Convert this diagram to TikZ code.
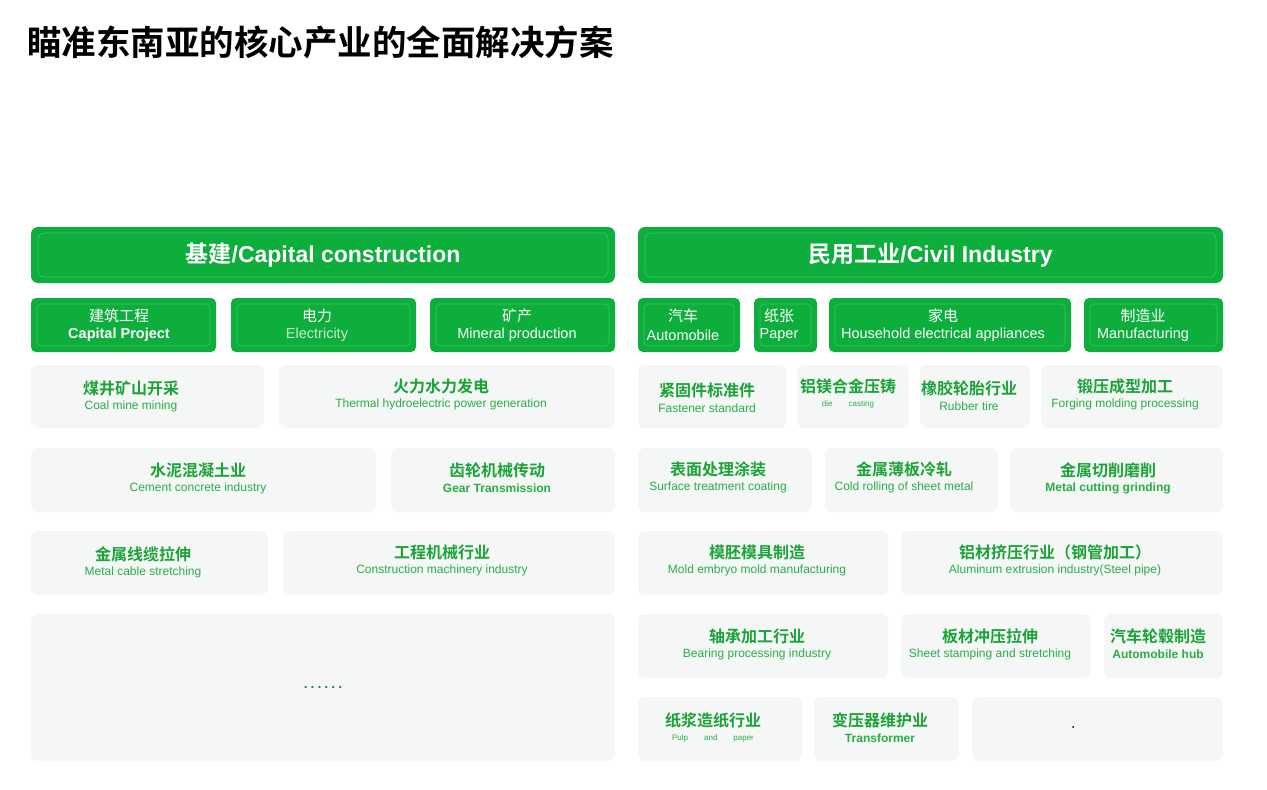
\documentclass[tikz,border=0pt]{standalone}
\usepackage{fontspec}
\setmainfont{Liberation Sans}
\newfontfamily\cjk{Noto Sans CJK SC}[BoldFont={Noto Sans CJK SC Bold}]
\usetikzlibrary{positioning}
\definecolor{hgreen}{HTML}{0EAE3D}
\definecolor{rimgreen}{HTML}{3DC566}
\definecolor{tgreen}{HTML}{1AA336}
\definecolor{egreen}{HTML}{28AE45}
\definecolor{tilegray}{HTML}{F5F7F6}
\definecolor{palegreen}{HTML}{C9ECCF}
\definecolor{dotgreen}{HTML}{2E8A50}
\tikzset{
  bar/.style={fill=hgreen,rounded corners=7pt},
  rim/.style={draw=rimgreen,line width=.6pt,rounded corners=6pt},
  tile/.style={fill=tilegray,rounded corners=7pt},
  headtxt/.style={text=white,font=\bfseries\fontsize{23}{23}\selectfont},
  cattxt/.style={text=white,font=\fontsize{14.5}{14.5}\selectfont},
  cntxt/.style={text=tgreen,font=\cjk\bfseries\fontsize{16}{16}\selectfont},
  entxt/.style={text=egreen,font=\fontsize{12}{12}\selectfont}
}
\begin{document}
\begin{tikzpicture}[x=1pt,y=-1pt]
\useasboundingbox (0,0) rectangle (1267,790);
\node[anchor=west,inner sep=0pt,font=\cjk\bfseries\fontsize{34.5}{34.5}\selectfont] (title) at (27,42) {瞄准东南亚的核心产业的全面解决方案};
% header bars
\foreach \xa/\xb/\n/\t in {31/615/hleft/{{\cjk 基建}/Capital construction},638/1223/hright/{{\cjk 民用工业}/Civil Industry}}{
\fill[bar] (\xa,227) rectangle (\xb,283);
\draw[rim] (\xa+7,233) rectangle (\xb-7,277);
\node[headtxt] (\n) at ({(\xa+\xb)/2},255) {\t};}
% category boxes
\foreach \xa/\xb/\tx/\n/\zh/\en in {31/216/119/build/建筑工程/{\bfseries Capital Project},231/416/317/power/电力/{\color{palegreen}Electricity},430/615/517/mine/矿产/Mineral production,638/740/683/auto/汽车/Automobile,754/817/779/paper/纸张/Paper,829/1071/943/home/家电/Household electrical appliances,1084/1223/1143/manu/制造业/Manufacturing}{
\fill[bar,rounded corners=5pt] (\xa,298) rectangle (\xb,352);
\draw[rim,rounded corners=4pt] (\xa+6,304) rectangle (\xb-6,346);
\node[cattxt,font=\cjk\fontsize{15}{15}\selectfont] (\n-zh) at (\tx,316) {\zh};
\node[cattxt] (\n-en) at (\tx,335) {\en};}
% tiles
\foreach \xa/\ya/\xb/\yb/\tx/\ty/\zh/\en [count=\i] in {
31/365/264/428/131/388/煤井矿山开采/Coal mine mining,
279/365/615/428/441/386/火力水力发电/Thermal hydroelectric power generation,
31/448/376/512/198/470/水泥混凝土业/Cement concrete industry,
391/448/615/512/497/470/齿轮机械传动/{\bfseries Gear Transmission},
31/531/268/595/143/554/金属线缆拉伸/Metal cable stretching,
283/531/615/595/442/552/工程机械行业/Construction machinery industry,
638/365/786/428/707/390/紧固件标准件/Fastener standard,
797/365/909/428/848/386/铝镁合金压铸/{\fontsize{8}{8}\selectfont die\qquad casting},
920/365/1030/428/969/388/橡胶轮胎行业/Rubber tire,
1041/365/1223/428/1125/386/锻压成型加工/Forging molding processing,
638/448/812/512/718/469/表面处理涂装/Surface treatment coating,
825/448/998/512/904/469/金属薄板冷轧/Cold rolling of sheet metal,
1010/448/1223/512/1108/470/金属切削磨削/{\bfseries Metal cutting grinding},
638/531/888/595/757/552/模胚模具制造/Mold embryo mold manufacturing,
901/531/1223/595/1055/552/铝材挤压行业（钢管加工）/Aluminum extrusion industry(Steel pipe),
638/614/888/678/757/636/轴承加工行业/Bearing processing industry,
901/614/1091/678/990/636/板材冲压拉伸/Sheet stamping and stretching,
1104/614/1223/678/1158/636/汽车轮毂制造/{\bfseries Automobile hub},
638/697/802/761/713/720/纸浆造纸行业/{\fontsize{8}{8}\selectfont Pulp\qquad and\qquad paper},
814/697/959/761/880/720/变压器维护业/{\bfseries Transformer}}{
\fill[tile] (\xa,\ya) rectangle (\xb,\yb);
\node[cntxt] (zh\i) at (\tx,\ty) {\zh};
\node[entxt] (en\i) at (\tx,\ty+18) {\en};}
% more tile and blank tile
\fill[tile] (31,614) rectangle (615,761);
\node[text=dotgreen,font=\bfseries\fontsize{14}{14}\selectfont] (more) at (323,687) {.\hspace{3pt}.\hspace{3pt}.\hspace{3pt}.\hspace{3pt}.\hspace{3pt}.};
\fill[tile] (972,697) rectangle (1223,761);
\fill (1073,727) circle (1pt);
\end{tikzpicture}
\end{document}
